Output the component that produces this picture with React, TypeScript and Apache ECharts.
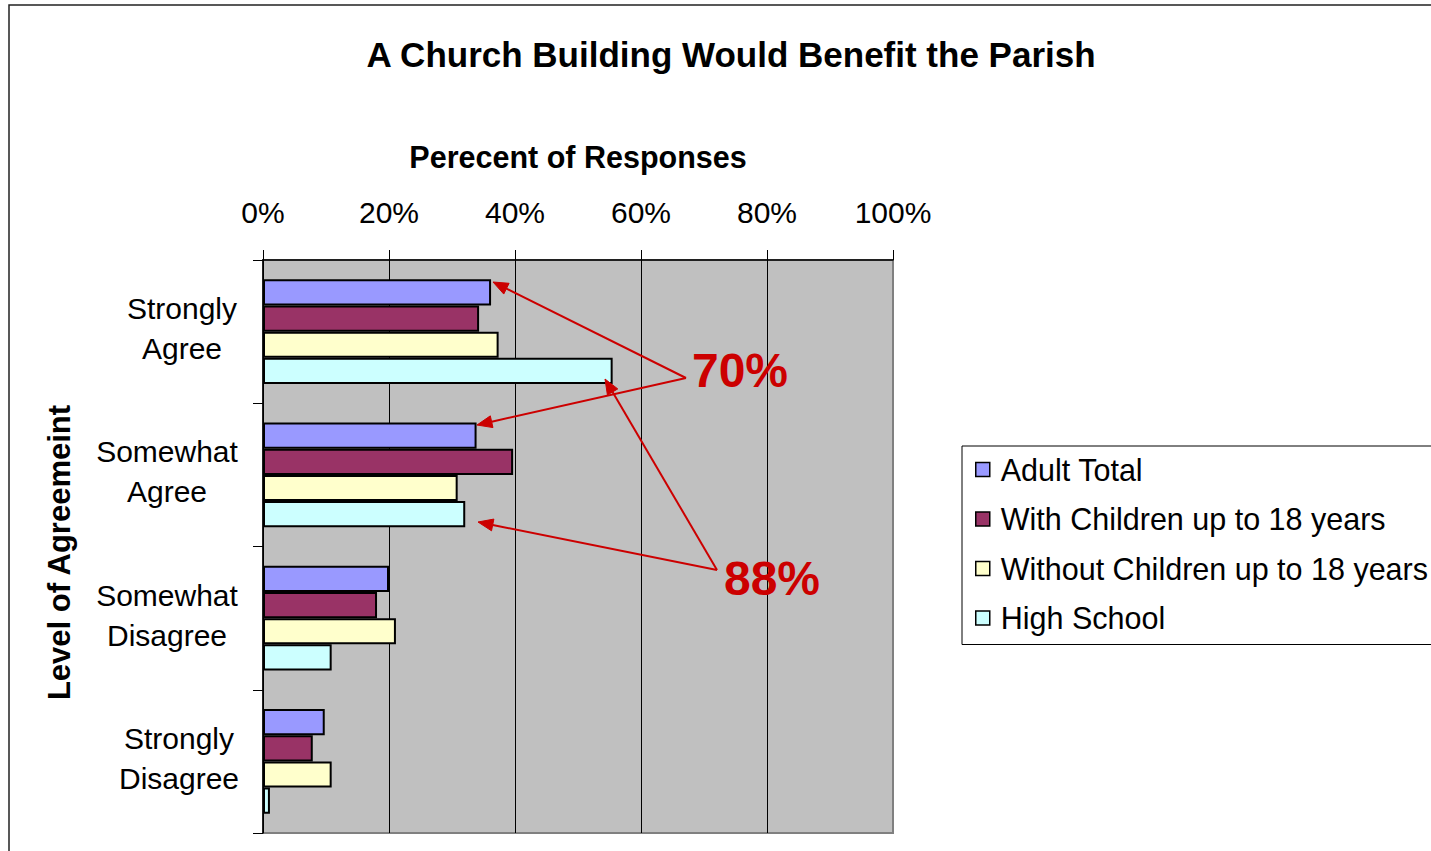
import React, { useEffect, useRef } from "react";
import * as echarts from "echarts";

const categories = ["Strongly\nAgree", "Somewhat\nAgree", "Somewhat\nDisagree", "Strongly\nDisagree"];
const seriesNames = ["Adult Total", "With Children up to 18 years", "Without Children up to 18 years", "High School"];
const adultTotal = [36.2, 33.9, 20.0, 9.8];
const withChildren = [34.3, 39.7, 18.1, 7.9];
const withoutChildren = [37.4, 30.9, 21.1, 10.9];
const highSchool = [55.5, 32.1, 10.9, 1.1];
const xTicks = [0, 20, 40, 60, 80, 100];
const colors = ["#9999FF", "#993366", "#FFFFCC", "#CCFFFF"];

const FONT = "'Liberation Sans', Arial, Helvetica, sans-serif";
const RED = "#CC0000";

function arrow(x1: number, y1: number, x2: number, y2: number) {
  const dx = x2 - x1;
  const dy = y2 - y1;
  const len = Math.sqrt(dx * dx + dy * dy);
  const ux = dx / len;
  const uy = dy / len;
  const L = 15;
  const W = 6;
  const bx = x2 - ux * L;
  const by = y2 - uy * L;
  const nx = -uy;
  const ny = ux;
  return [
    {
      type: "line",
      z: 100,
      shape: { x1, y1, x2: bx, y2: by },
      style: { stroke: RED, lineWidth: 2 },
    },
    {
      type: "polygon",
      z: 100,
      shape: {
        points: [
          [x2, y2],
          [bx + nx * W, by + ny * W],
          [bx - nx * W, by - ny * W],
        ],
      },
      style: { fill: RED, stroke: RED, lineWidth: 1 },
    },
  ];
}

export default function App() {
  const ref = useRef<HTMLDivElement>(null);
  useEffect(() => {
    if (!ref.current) return;
    const chart = echarts.init(ref.current, null, { renderer: "svg" });
    const richWidths = [116, 146, 146, 122];
    const rich: any = {};
    richWidths.forEach((w, i) => {
      rich["c" + i] = {
        width: w,
        align: "center",
        fontSize: 30,
        lineHeight: 40,
        fontFamily: FONT,
        color: "#000",
      };
    });
    const dataSets = [adultTotal, withChildren, withoutChildren, highSchool];
    const option: any = {
      animation: false,
      backgroundColor: "#ffffff",
      textStyle: { fontFamily: FONT },
      title: {
        text: "A Church Building Would Benefit the Parish",
        left: 731,
        top: 37,
        textAlign: "center",
        padding: 0,
        textStyle: { fontSize: 35, fontWeight: "bold", color: "#000", fontFamily: FONT },
      },
      legend: {
        orient: "vertical",
        left: 962,
        top: 446,
        padding: [8, 40, 11, 13],
        itemWidth: 14,
        itemHeight: 14,
        itemGap: 18.5,
        borderColor: "#000",
        borderWidth: 1,
        backgroundColor: "#fff",
        icon: "rect",
        itemStyle: { borderColor: "#000", borderWidth: 1.5 },
        textStyle: { fontSize: 30.5, lineHeight: 31, color: "#000", fontFamily: FONT, padding: [0, 0, 0, 6] },
        data: seriesNames,
      },
      grid: {
        left: 263,
        top: 260,
        right: 1431 - 893,
        bottom: 851 - 833,
        show: true,
        backgroundColor: "#C0C0C0",
        borderColor: "#808080",
        borderWidth: 2,
      },
      xAxis: {
        type: "value",
        position: "top",
        min: 0,
        max: 100,
        interval: 20,
        name: "Perecent of Responses",
        nameLocation: "middle",
        nameGap: 88,
        nameTextStyle: { fontSize: 30.5, fontWeight: "bold", color: "#000", fontFamily: FONT },
        axisLine: { show: true, lineStyle: { color: "#000", width: 1.5 } },
        axisTick: { show: true, length: 10, lineStyle: { color: "#000", width: 1 } },
        axisLabel: {
          formatter: (v: number) => (xTicks.includes(v) ? v + "%" : ""),
          fontSize: 30,
          color: "#000",
          margin: 33,
          fontFamily: FONT,
        },
        splitLine: { show: true, showMaxLine: false, lineStyle: { color: "#000", width: 1 } },
      },
      yAxis: {
        type: "category",
        inverse: true,
        data: categories,
        name: "Level of Agreemeint",
        nameLocation: "middle",
        nameGap: 188,
        nameRotate: 90,
        nameTextStyle: {
          fontSize: 31,
          fontWeight: "bold",
          color: "#000",
          fontFamily: FONT,
          padding: [0, 12, 0, 0],
        },
        axisLine: { show: true, lineStyle: { color: "#000", width: 1.5 } },
        axisTick: { show: true, length: 10, lineStyle: { color: "#000", width: 1 } },
        axisLabel: {
          margin: 23,
          padding: [0, 0, 6, 0],
          formatter: (value: string, index: number) =>
            value
              .split("\n")
              .map((l) => `{c${index}|${l}}`)
              .join("\n"),
          rich,
        },
      },
      series: dataSets.map((d, i) => ({
        name: seriesNames[i],
        type: "bar",
        data: d,
        barGap: "0%",
        barCategoryGap: "27%",
        itemStyle: { color: colors[i], borderColor: "#000", borderWidth: 2 },
      })),
      graphic: [
        {
          type: "rect",
          z: -10,
          shape: { x: 9, y: 5, width: 1600, height: 1000 },
          style: { fill: "none", stroke: "#222", lineWidth: 1.5 },
        },
        ...arrow(686, 378, 493, 282),
        ...arrow(686, 378, 477, 425),
        ...arrow(717, 570, 605, 379),
        ...arrow(717, 570, 478, 522),
        {
          type: "text",
          z: 100,
          x: 740,
          y: 370,
          style: {
            text: "70%",
            fill: RED,
            fontSize: 48,
            fontWeight: "bold",
            fontFamily: FONT,
            align: "center",
            verticalAlign: "middle",
          },
        },
        {
          type: "text",
          z: 100,
          x: 772,
          y: 578,
          style: {
            text: "88%",
            fill: RED,
            fontSize: 48,
            fontWeight: "bold",
            fontFamily: FONT,
            align: "center",
            verticalAlign: "middle",
          },
        },
      ],
    };
    chart.setOption(option);
    return () => chart.dispose();
  }, []);
  return (
    <div
      ref={ref}
      style={{ position: "fixed", left: 0, top: 0, width: 1431, height: 851, background: "#fff" }}
    />
  );
}
